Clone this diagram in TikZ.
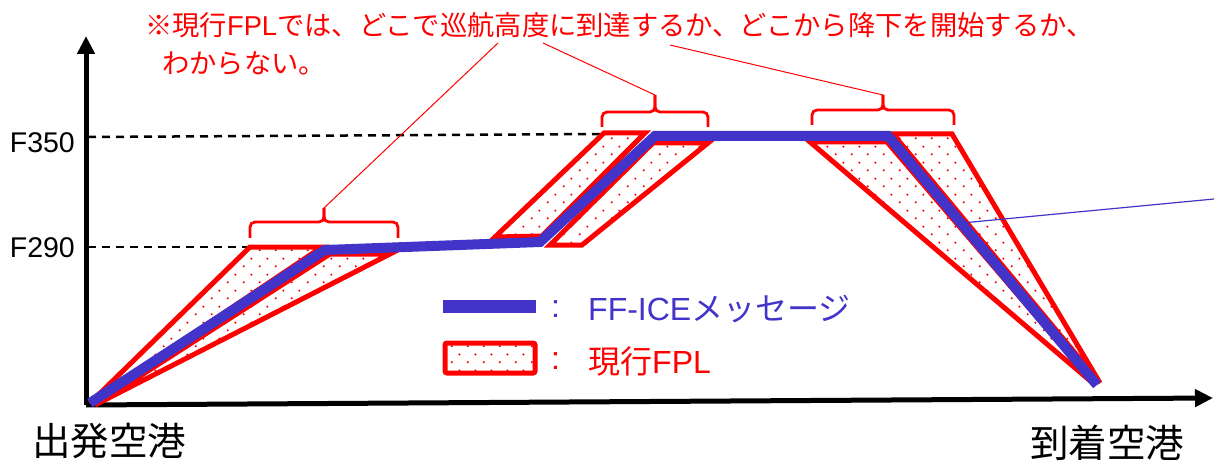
\documentclass[tikz,border=0pt]{standalone}
\usepackage{fontspec}
\setmainfont{Liberation Sans}
\newfontfamily\jp{Noto Sans CJK JP}
\usetikzlibrary{arrows.meta,patterns.meta}
\definecolor{ffblue}{RGB}{66,52,200}
\definecolor{fplred}{RGB}{255,0,0}
\tikzdeclarepattern{
  name=sparsedots,
  type=uncolored,
  bounding box={(0pt,0pt) and (16pt,16pt)},
  tile size={(16pt,16pt)},
  code={\fill (4pt,4pt) circle (1.2pt); \fill (12pt,12pt) circle (1.2pt);}
}
\begin{document}
\begin{tikzpicture}[x=1pt,y=-1pt,
  fplarea/.style={draw=fplred, line width=5pt, line join=miter, pattern=sparsedots, pattern color=fplred},
  ffline/.style={draw=ffblue, line width=10pt, line join=miter},
  dashline/.style={draw=black, dash pattern=on 8pt off 6pt, line width=2.5pt},
  bracestyle/.style={draw=fplred, line width=2.8pt, rounded corners=5pt},
  callout/.style={draw=fplred, line width=1pt},
  axisline/.style={draw=black, line width=5pt, -{Triangle[length=18pt,width=17pt]}},
  lbl/.style={inner sep=0pt, font=\fontsize{28.5}{34}\selectfont, anchor=east},
  ends/.style={inner sep=0pt, font=\jp\fontsize{38.5}{44}\selectfont},
  note/.style={inner sep=0pt, anchor=west, text=fplred, font=\fontsize{27.3}{32}\selectfont},
  legtext/.style={inner sep=0pt, anchor=west, font=\fontsize{32}{36}\selectfont}
]
\useasboundingbox (0,0) rectangle (1214,462);

% axes
\coordinate (O) at (86,405);
\coordinate (ytop) at (86,36);
\coordinate (xend) at (1213,398);
\draw[axisline] (O) -- (ytop);
\draw[axisline] (O) -- (xend);

% level lines and labels
\coordinate (d350a) at (88,137);
\coordinate (d350b) at (606,134);
\coordinate (d290a) at (88,247);
\coordinate (d290b) at (250,247);
\draw[dashline] (d350a) -- (d350b);
\draw[dashline] (d290a) -- (d290b);
\node[lbl] (f350) at (75,143) {F350};
\node[lbl] (f290) at (75,248) {F290};

% FPL areas
\draw[fplarea] (90,403) -- (250,247) -- (322,247) -- cycle;
\draw[fplarea] (95,405) -- (330,254) -- (390,254) -- cycle;
\draw[fplarea] (495,237) -- (604,133) -- (645,133) -- (542,236) -- cycle;
\draw[fplarea] (550,245) -- (653,143) -- (708,143) -- (582,245) -- cycle;
\draw[fplarea] (810,142) -- (887,142) -- (1095,385) -- cycle;
\draw[fplarea] (893,134) -- (952,134) -- (1100,383) -- cycle;

% FF-ICE profile
\coordinate (p0) at (90,403);
\coordinate (p1) at (325,250);
\coordinate (p2) at (540,242);
\coordinate (p3) at (655,136);
\coordinate (p4) at (888,136);
\coordinate (p5) at (1097,385);
\draw[ffline] (p0) -- (p1) -- (p2) -- (p3) -- (p4) -- (p5);

% thin blue pointer
\coordinate (bp) at (962,223);
\coordinate (bpend) at (1214,199);
\draw[draw=ffblue, line width=1.2pt] (bp) -- (bpend);

% braces
\coordinate (b1) at (324,208);
\coordinate (b2) at (655,95);
\coordinate (b3) at (883,95);
\draw[bracestyle] (250,238) -- (250,222) -- (324,222) -- (b1);
\draw[bracestyle] (b1) -- (324,222) -- (398,222) -- (398,238);
\draw[bracestyle] (602,127) -- (602,112) -- (655,112) -- (b2);
\draw[bracestyle] (b2) -- (655,112) -- (708,112) -- (708,127);
\draw[bracestyle] (812,125) -- (812,110) -- (883,110) -- (b3);
\draw[bracestyle] (b3) -- (883,110) -- (954,110) -- (954,125);

% note text
\node[note] (t1) at (145,25) {{\jp ※現行}FPL{\jp では、どこで巡航高度に到達するか、どこから降下を開始するか、}};
\node[note] (t2) at (162,63) {\jp わからない。};
\coordinate (c1) at (498,43);
\coordinate (c2) at (543,43);
\coordinate (c3) at (670,45);
\draw[callout] (c1) -- (b1);
\draw[callout] (c2) -- (b2);
\draw[callout] (c3) -- (b3);

% legend
\fill[ffblue] (443,300) rectangle (536,313);
\draw[fplarea, rounded corners=2pt] (445,343) rectangle (535,373);
\node[legtext, text=ffblue] (col1) at (551,309) {:};
\node[legtext, text=ffblue] (leg1) at (588,309) {FF-ICE{\jp メッセージ}};
\node[legtext, text=fplred] (col2) at (551,361) {:};
\node[legtext, text=fplred] (leg2) at (588,361) {{\jp 現行}FPL};

% airport labels
\node[ends] (dep) at (109,441) {出発空港};
\node[ends] (arr) at (1107,443) {到着空港};
\end{tikzpicture}
\end{document}
